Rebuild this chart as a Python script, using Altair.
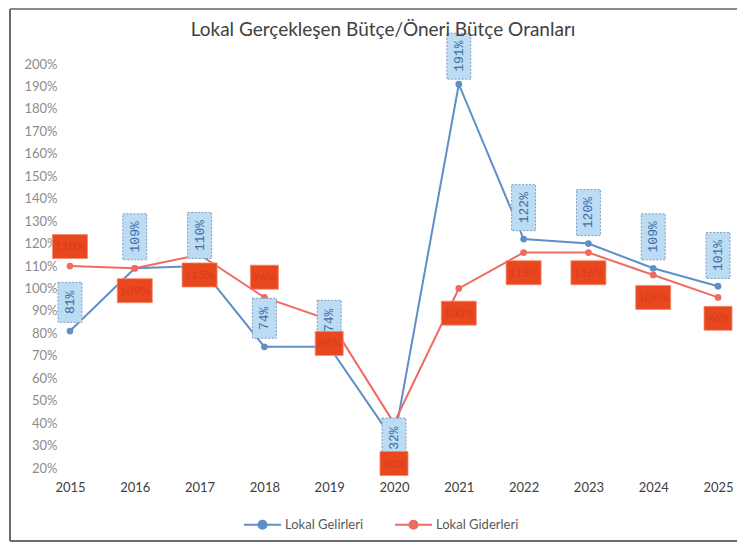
import altair as alt
import pandas as pd

years = ["2015", "2016", "2017", "2018", "2019", "2020", "2021", "2022", "2023", "2024", "2025"]
series = ["Lokal Gelirleri", "Lokal Giderleri"]
gelir = [0.81, 1.09, 1.10, 0.74, 0.74, 0.32, 1.91, 1.22, 1.20, 1.09, 1.01]
gider = [1.10, 1.09, 1.15, 0.96, 0.86, 0.40, 1.00, 1.16, 1.16, 1.06, 0.96]
gelir_labels = ["81%", "109%", "110%", "74%", "74%", "32%", "191%", "122%", "120%", "109%", "101%"]
gider_labels = ["110%", "109%", "115%", "96%", "86%", "40%", "100%", "116%", "116%", "106%", "96%"]
# where each data label box sits, in axis units
gelir_label_at = [0.938, 1.23, 1.236, 0.867, 0.858, 0.333, 2.035, 1.36, 1.338, 1.23, 1.147]
gider_label_at = [1.187, 0.99, 1.06, 1.05, 0.755, 0.22, 0.89, 1.07, 1.07, 0.96, 0.867]
y_ticks = [0.2, 0.3, 0.4, 0.5, 0.6, 0.7, 0.8, 0.9, 1.0, 1.1, 1.2, 1.3, 1.4, 1.5, 1.6, 1.7, 1.8, 1.9, 2.0]

rows = []
for s, vals, labs, at in [(series[0], gelir, gelir_labels, gelir_label_at),
                          (series[1], gider, gider_labels, gider_label_at)]:
    for yr, v, lb, a in zip(years, vals, labs, at):
        rows.append({"year": yr, "series": s, "value": v, "label": lb,
                     "label_at": a, "nchar": str(len(lb))})
df = pd.DataFrame(rows)

BLUE = "#5f8fc7"
RED = "#ef6b62"
FONT = "Lato"

x_axis = alt.Axis(title=None, labelAngle=0, ticks=False, domain=False,
                  labelPadding=13, labelFontSize=13, labelColor="#404040",
                  labelFont=FONT)
x_enc = alt.X("year:O", sort=years,
              scale=alt.Scale(type="point", padding=0.123), axis=x_axis)
y_scale = alt.Scale(domain=[0.2, 2.0], nice=False, zero=False)
y_axis = alt.Axis(title=None, format=".0%", values=y_ticks, grid=False,
                  ticks=False, domain=False, labelPadding=5, labelOverlap=False,
                  labelFontSize=13, labelColor="#8c8c8c", labelFont=FONT)
y_enc = alt.Y("value:Q", scale=y_scale, axis=y_axis)
ylab = alt.Y("label_at:Q", scale=y_scale, axis=y_axis)

legend_path = ("M-1,0H-0.22M0.22,0H1M0.22,0A0.22,0.22,0,1,1,-0.22,0"
               "A0.22,0.22,0,1,1,0.22,0")
color_enc = alt.Color("series:N", sort=series,
                      scale=alt.Scale(domain=series, range=[BLUE, RED]),
                      legend=alt.Legend(title=None, orient="none", legendX=181, legendY=441,
                                        direction="horizontal", symbolType=legend_path,
                                        symbolSize=1369, symbolStrokeWidth=2,
                                        labelFontSize=13, labelColor="#595959",
                                        labelFont=FONT, columnPadding=27, labelOffset=3))

base = alt.Chart(df)

frame_data = alt.Data(values=[{"k": 1}])
frame_left = alt.Chart(frame_data).mark_rule(color="#6b6b6b", strokeWidth=2).encode(
    x=alt.value(-52), y=alt.value(-55), y2=alt.value(477))
frame_top = alt.Chart(frame_data).mark_rule(color="#8a8a8a", strokeWidth=2).encode(
    x=alt.value(-52), x2=alt.value(676), y=alt.value(-55))
frame_bottom = alt.Chart(frame_data).mark_rule(color="#6b6b6b", strokeWidth=2).encode(
    x=alt.value(-52), x2=alt.value(676), y=alt.value(477))

lines = base.mark_line(strokeWidth=2).encode(x=x_enc, y=y_enc, color=color_enc)
points = base.mark_circle(size=45, opacity=1).encode(x=x_enc, y=y_enc, color=color_enc)

blue_shapes = alt.Shape("nchar:N",
                        scale=alt.Scale(domain=["3", "4"],
                                        range=["M-0.52,-0.87H0.52V0.87H-0.52Z",
                                               "M-0.52,-1H0.52V1H-0.52Z"]),
                        legend=None)
red_shapes = alt.Shape("nchar:N",
                       scale=alt.Scale(domain=["3", "4"],
                                       range=["M-0.8,-0.686H0.8V0.686H-0.8Z",
                                              "M-1,-0.686H1V0.686H-1Z"]),
                       legend=None)

blue_boxes = base.transform_filter(alt.datum.series == series[0]).mark_point(
    filled=True, fill="#bcdcf4", stroke="#7d9cc4", strokeWidth=1, strokeDash=[2, 1.5],
    size=2116, opacity=1).encode(x=x_enc, y=ylab, shape=blue_shapes)
blue_text = base.transform_filter(alt.datum.series == series[0]).mark_text(
    angle=270, font="Liberation Mono", fontSize=13, color="#3e6ea6",
    align="center", baseline="middle").encode(x=x_enc, y=ylab, text="label:N")

red_boxes = base.transform_filter(alt.datum.series == series[1]).mark_point(
    filled=True, fill="#e9471e", stroke="#f08a70", strokeWidth=0.8,
    size=1225, opacity=1).encode(x=x_enc, y=ylab, shape=red_shapes)
red_text = base.transform_filter(alt.datum.series == series[1]).mark_text(
    font=FONT, fontSize=12, color="#d63d1c", align="center",
    baseline="middle").encode(x=x_enc, y=ylab, text="label:N")

chart = alt.layer(
    frame_left, frame_top, frame_bottom, lines, points,
    blue_boxes, blue_text, red_boxes, red_text
).resolve_scale(shape="independent").properties(
    width=664, height=404,
    padding={"left": 54, "top": 56, "right": 11, "bottom": 75},
    autosize=alt.AutoSizeParams(type="none"),
    title=alt.TitleParams("Lokal Gerçekleşen Bütçe/Öneri Bütçe Oranları",
                          font=FONT, fontSize=19, fontWeight="normal", color="#404040",
                          anchor="middle", dx=-11, offset=-47, baseline="alphabetic",
                          frame="group"),
).configure_view(stroke=None)

chart.save("out.html", embed_options={"renderer": "svg", "actions": False})
